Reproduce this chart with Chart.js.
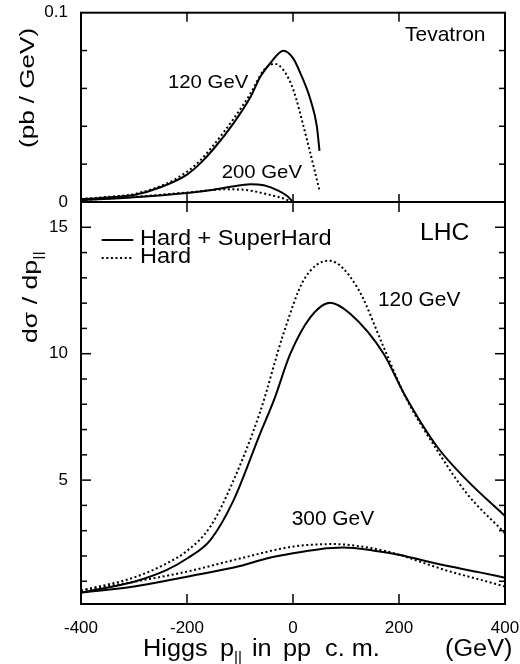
<!DOCTYPE html>
<html>
<head>
<meta charset="utf-8">
<script src="https://cdn.jsdelivr.net/npm/chart.js@4"></script>
<style>
  html, body { margin: 0; padding: 0; background: #fff; }
  #wrap { position: relative; width: 520px; height: 664px; }
</style>
</head>
<body>
<div id="wrap"><canvas id="chart" width="520" height="664"></canvas></div>
<script>
const FONT = '"Liberation Sans", Arial, Helvetica, sans-serif';

// x axis
const xTicks = [-400, -200, 0, 200, 400];
// Tevatron panel (pb / GeV)
const tevTicks = [0, 0.1];
const tev120X = [-400, -350, -300, -250, -200, -175, -150, -112, -80, -62, -43, -18, 0, 14, 33, 45, 50];
const tev120Full = [0.0014, 0.0024, 0.0037, 0.0078, 0.0145, 0.0204, 0.028, 0.0417, 0.0556, 0.066, 0.0733, 0.0799, 0.076, 0.068, 0.054, 0.040, 0.027];
const tev120HardX = [-400, -350, -300, -238, -200, -175, -150, -112, -80, -55, -35, -18, 1, 20, 39, 50];
const tev120Hard = [0.0016, 0.0027, 0.0042, 0.0098, 0.016, 0.022, 0.030, 0.044, 0.0574, 0.0697, 0.073, 0.0697, 0.059, 0.0398, 0.0187, 0.006];
const tev200X = [-400, -300, -200, -150, -100, -80, -55, -30, -11, 0];
const tev200Full = [0.001, 0.0025, 0.0048, 0.0065, 0.0088, 0.0094, 0.0088, 0.0063, 0.0032, 0];
const tev200HardX = [-400, -300, -200, -127, -100, -80, -43, -11, -5];
const tev200Hard = [0.001, 0.0027, 0.005, 0.0067, 0.0066, 0.006, 0.0037, 0.0011, 0];
// LHC panel
const lhcTicks = [5, 10, 15];
const lhc120X = [-400, -350, -300, -238, -200, -156, -112, -62, -36, -5, 33, 70, 108, 171, 210, 272, 328, 400];
const lhc120Full = [0.55, 0.75, 0.98, 1.45, 1.9, 2.63, 4.21, 6.84, 8.16, 10.0, 11.45, 12.02, 11.58, 10.0, 8.4, 6.32, 5.0, 3.58];
const lhc120HardX = [-400, -300, -238, -200, -156, -112, -62, -18, 20, 68, 121, 171, 212, 272, 328, 400];
const lhc120Hard = [0.63, 1.15, 1.71, 2.2, 3.16, 5.0, 7.7, 10.79, 12.9, 13.68, 12.63, 10.26, 8.3, 6.18, 4.47, 2.9];
const lhc300X = [-400, -300, -200, -100, -50, 0, 50, 95, 150, 202, 250, 297, 350, 400];
const lhc300Full = [0.55, 0.79, 1.18, 1.6, 1.9, 2.11, 2.27, 2.33, 2.22, 2.04, 1.8, 1.58, 1.36, 1.14];
const lhc300HardX = [-400, -300, -200, -100, 0, 76, 150, 202, 250, 297, 350, 400];
const lhc300Hard = [0.63, 0.98, 1.38, 1.9, 2.37, 2.47, 2.3, 2.04, 1.7, 1.38, 1.08, 0.79];

const pts = (xs, ys) => xs.map((x, i) => ({x: x, y: ys[i]}));
const DOT = [2, 2.6];

function series(xs, ys, axis, dashed) {
  return {
    data: pts(xs, ys),
    yAxisID: axis,
    borderColor: '#000',
    borderWidth: 2,
    borderDash: dashed ? DOT : [],
    fill: false
  };
}

// draws text pieces one after the other, optionally rotated and stretched along the text
function richText(ctx, x, y, parts, sx, rotate) {
  ctx.save();
  ctx.translate(x, y);
  if (rotate) ctx.rotate(-Math.PI / 2);
  ctx.scale(sx, 1);
  ctx.fillStyle = '#000';
  ctx.textBaseline = 'alphabetic';
  ctx.textAlign = 'left';
  let pos = 0;
  for (const [t, size, dy] of parts) {
    ctx.font = size + 'px ' + FONT;
    ctx.fillText(t, pos, dy || 0);
    pos += ctx.measureText(t).width;
  }
  ctx.restore();
}

const decor = {
  id: 'decor',
  afterDraw(chart) {
    const ctx = chart.ctx;
    const x = chart.scales.x, yt = chart.scales.yTev, yb = chart.scales.yLhc;
    const L = x.left, R = x.right;
    ctx.save();
    ctx.strokeStyle = '#000';
    ctx.lineWidth = 2;
    ctx.strokeRect(L, yt.top, R - L, yt.bottom - yt.top);
    ctx.strokeRect(L, yb.top, R - L, yb.bottom - yb.top);

    ctx.lineWidth = 1.5;
    const line = (x1, y1, x2, y2) => { ctx.beginPath(); ctx.moveTo(x1, y1); ctx.lineTo(x2, y2); ctx.stroke(); };
    // x ticks, inward on both panels
    for (const v of xTicks.slice(1, -1)) {
      const px = x.getPixelForValue(v);
      line(px, yt.top, px, yt.top + 9);
      line(px, yt.bottom, px, yt.bottom - 8);
      line(px, yb.top, px, yb.top + 10);
      line(px, yb.bottom, px, yb.bottom - 10);
    }
    // Tevatron y ticks
    for (let k = 1; k < 5; k++) {
      const py = yt.getPixelForValue(k * 0.02);
      line(L, py, L + 6, py);
      line(R, py, R - 6, py);
    }
    // LHC y ticks
    for (let v = 1; v <= 15; v++) {
      const py = yb.getPixelForValue(v);
      const len = v % 5 === 0 ? 10 : 6;
      line(L, py, L + len, py);
      line(R, py, R - len, py);
    }

    // legend samples
    ctx.lineWidth = 2;
    line(101.7, 240, 133.3, 240);
    ctx.setLineDash(DOT);
    line(101.7, 258, 133.3, 258);
    ctx.setLineDash([]);
    ctx.restore();

    // annotations
    richText(ctx, 405, 40.7, [['Tevatron', 21]], 1.0);
    richText(ctx, 168, 88.3, [['120 GeV', 19]], 1.07);
    richText(ctx, 221.7, 178.3, [['200 GeV', 19]], 1.07);
    richText(ctx, 420, 240, [['LHC', 23.5]], 1.05);
    richText(ctx, 140, 245, [['Hard + SuperHard', 22]], 1.07);
    richText(ctx, 140, 263.3, [['Hard', 22]], 1.07);
    richText(ctx, 378, 306, [['120 GeV', 19.5]], 1.07);
    richText(ctx, 291.7, 525, [['300 GeV', 19.5]], 1.07);

    // axis titles
    richText(ctx, 34, 148, [['(pb / GeV)', 21]], 1.24, true);
    richText(ctx, 37, 343, [['d\u03c3 / dp', 21], ['||', 13, 5]], 1.27, true);
    const tb = 656;
    richText(ctx, 143, tb, [['Higgs', 23]], 1.1);
    richText(ctx, 220, tb, [['p', 23], ['||', 14, 6]], 1.1);
    richText(ctx, 252, tb, [['in', 23]], 1.1);
    richText(ctx, 283, tb, [['pp', 23]], 1.1);
    richText(ctx, 325, tb, [['c. m.', 23]], 1.1);
    richText(ctx, 445, tb, [['(GeV)', 23]], 1.1);
  }
};

const tickFont = {family: FONT, size: 17};
const noPad = s => { s.paddingTop = 0; s.paddingBottom = 0; s.paddingLeft = 0; s.paddingRight = 0; };

new Chart(document.getElementById('chart'), {
  type: 'line',
  data: {
    datasets: [
      series(lhc120X, lhc120Full, 'yLhc', false),
      series(lhc120HardX, lhc120Hard, 'yLhc', true),
      series(lhc300X, lhc300Full, 'yLhc', false),
      series(lhc300HardX, lhc300Hard, 'yLhc', true),
      series(tev120X, tev120Full, 'yTev', false),
      series(tev120HardX, tev120Hard, 'yTev', true),
      series(tev200X, tev200Full, 'yTev', false),
      series(tev200HardX, tev200Hard, 'yTev', true)
    ]
  },
  options: {
    responsive: false,
    animation: false,
    layout: {padding: {top: 12.7, right: 15, left: 0, bottom: 0}},
    plugins: {legend: {display: false}, tooltip: {enabled: false}},
    elements: {point: {radius: 0}, line: {cubicInterpolationMode: 'monotone'}},
    scales: {
      x: {
        type: 'linear', min: -400, max: 400,
        grid: {display: false}, border: {display: false},
        afterBuildTicks: s => { s.ticks = xTicks.map(v => ({value: v})); },
        afterFit: s => { s.height = 60; noPad(s); },
        ticks: {font: tickFont, color: '#000', padding: 6, maxRotation: 0, autoSkip: false, callback: v => String(v)}
      },
      yLhc: {
        type: 'linear', position: 'left', stack: 'panels', stackWeight: 402,
        min: 0.1, max: 16,
        grid: {display: false}, border: {display: false},
        afterBuildTicks: s => { s.ticks = lhcTicks.map(v => ({value: v})); },
        afterFit: s => { s.width = 81; noPad(s); },
        ticks: {font: tickFont, color: '#000', padding: 5, callback: v => String(v)}
      },
      yTev: {
        type: 'linear', position: 'left', stack: 'panels', stackWeight: 189.3,
        min: 0, max: 0.1,
        grid: {display: false}, border: {display: false},
        afterBuildTicks: s => { s.ticks = tevTicks.map(v => ({value: v})); },
        afterFit: s => { s.width = 81; noPad(s); },
        ticks: {font: tickFont, color: '#000', padding: 5, callback: v => String(v)}
      }
    }
  },
  plugins: [decor]
});
</script>
</body>
</html>
